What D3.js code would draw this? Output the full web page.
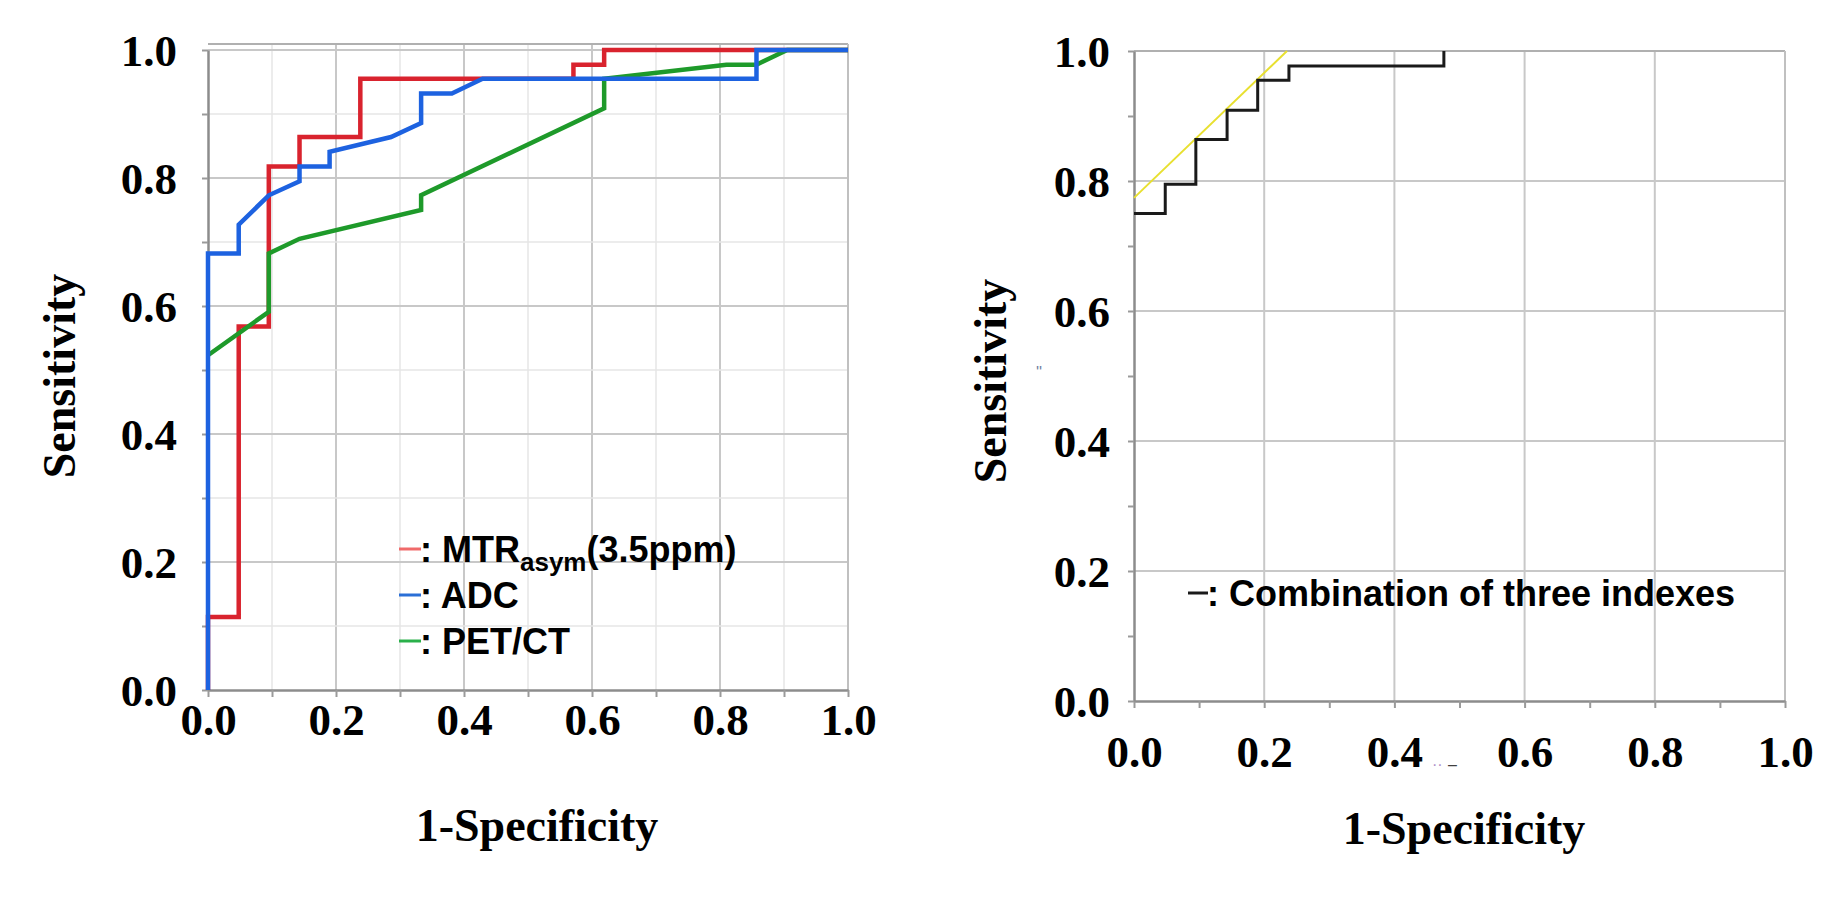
<!DOCTYPE html>
<html>
<head>
<meta charset="utf-8">
<script src="https://cdn.jsdelivr.net/npm/d3@7"></script>
<style>
  body { margin: 0; background: #fff; }
  .tick text { font-family: "Liberation Serif", "Times New Roman", serif; font-weight: bold; font-size: 45px; fill: #000; }
  .lgd { font-family: "Liberation Sans", Arial, sans-serif; font-weight: bold; font-size: 36px; fill: #000; }
  .ttl { font-family: "Liberation Serif", "Times New Roman", serif; font-weight: bold; font-size: 46px; fill: #000; }
</style>
</head>
<body>
<svg id="chart" width="1841" height="900"></svg>
<script>
// tick values / labels
const tickVals = d3.range(0, 11).map(i => i / 10);
const xTitle = "1-Specificity";
const yTitle = "Sensitivity";

// left panel: MTRasym(3.5ppm), ADC, PET/CT
const mtrX = [0, 0, 0.048, 0.048, 0.095, 0.095, 0.143, 0.143, 0.238, 0.238, 0.571, 0.571, 0.619, 0.619, 1.0];
const mtrY = [0, 0.114, 0.114, 0.568, 0.568, 0.818, 0.818, 0.864, 0.864, 0.955, 0.955, 0.977, 0.977, 1.0, 1.0];

const adcX = [0, 0, 0.048, 0.048, 0.095, 0.143, 0.143, 0.190, 0.190, 0.286, 0.333, 0.333, 0.381, 0.429, 0.857, 0.857, 1.0];
const adcY = [0, 0.682, 0.682, 0.727, 0.773, 0.795, 0.818, 0.818, 0.841, 0.864, 0.886, 0.932, 0.932, 0.955, 0.955, 1.0, 1.0];

const petX = [0, 0.095, 0.095, 0.143, 0.333, 0.333, 0.619, 0.619, 0.810, 0.857, 0.905, 1.0];
const petY = [0.523, 0.591, 0.682, 0.705, 0.750, 0.773, 0.909, 0.955, 0.977, 0.977, 1.0, 1.0];

// right panel: combination of three indexes + yellow guide line
const comboX = [0, 0.048, 0.048, 0.095, 0.095, 0.143, 0.143, 0.190, 0.190, 0.238, 0.238, 0.476, 0.476];
const comboY = [0.75, 0.75, 0.795, 0.795, 0.864, 0.864, 0.909, 0.909, 0.955, 0.955, 0.977, 0.977, 1.0];

const guideX = [0, 0.235];
const guideY = [0.774, 1.0];

const svg = d3.select("#chart");

function toPts(xs, ys) {
  return xs.map((v, i) => [v, ys[i]]);
}

function isMajor(d) {
  return Math.round(d * 10) % 2 === 0;
}

function drawPanel(cfg) {
  const x = d3.scaleLinear().domain([0, 1]).range([cfg.x0, cfg.x1]);
  const y = d3.scaleLinear().domain([0, 1]).range([cfg.y0, cfg.y1]);
  const g = svg.append("g");

  // grid
  const gridVals = cfg.minorGrid ? tickVals.slice(1) : tickVals.filter(d => d > 0 && isMajor(d));
  g.selectAll(".vg").data(gridVals).enter().append("line")
    .attr("x1", d => x(d)).attr("x2", d => x(d))
    .attr("y1", cfg.y0).attr("y2", cfg.y1 - cfg.pad)
    .attr("stroke", d => isMajor(d) ? "#c8c8c8" : "#e6e6e6")
    .attr("stroke-width", d => isMajor(d) ? 2 : 1.5);
  g.selectAll(".hg").data(gridVals).enter().append("line")
    .attr("y1", d => y(d)).attr("y2", d => y(d))
    .attr("x1", cfg.x0).attr("x2", cfg.x1)
    .attr("stroke", d => isMajor(d) ? "#c8c8c8" : "#e6e6e6")
    .attr("stroke-width", d => isMajor(d) ? 2 : 1.5);

  // top / right frame
  g.append("line").attr("x1", cfg.x0).attr("x2", cfg.x1)
    .attr("y1", cfg.y1 - cfg.pad).attr("y2", cfg.y1 - cfg.pad)
    .attr("stroke", "#b0b0b0").attr("stroke-width", 2);
  g.append("line").attr("x1", cfg.x1).attr("x2", cfg.x1)
    .attr("y1", cfg.y0).attr("y2", cfg.y1 - cfg.pad)
    .attr("stroke", "#c0c0c0").attr("stroke-width", 2);

  // axes
  const xAxis = d3.axisBottom(x).tickValues(tickVals).tickSize(7).tickSizeOuter(0)
    .tickFormat(d => isMajor(d) ? d.toFixed(1) : "");
  const yAxis = d3.axisLeft(y).tickValues(tickVals).tickSize(6).tickSizeOuter(0)
    .tickFormat(d => isMajor(d) ? d.toFixed(1) : "");

  const gx = g.append("g").attr("transform", `translate(0,${cfg.y0})`).call(xAxis);
  gx.selectAll("text").attr("y", cfg.xLabelOff).attr("dy", "0.35em");
  const gy = g.append("g").attr("transform", `translate(${cfg.x0},0)`).call(yAxis);
  gy.selectAll("text").attr("x", -cfg.yLabelOff).attr("dy", "0.35em");
  [gx, gy].forEach(a => {
    a.select(".domain").attr("stroke", "#8c8c8c").attr("stroke-width", 2.5);
    a.selectAll(".tick line").attr("stroke", "#9a9a9a").attr("stroke-width", 2);
  });

  // titles
  g.append("text").attr("class", "ttl").attr("text-anchor", "middle")
    .attr("x", cfg.xTitleX).attr("y", cfg.xTitleY).attr("dy", "0.35em").text(xTitle);
  g.append("text").attr("class", "ttl").attr("text-anchor", "middle")
    .attr("transform", `translate(${cfg.yTitleX},${cfg.yTitleY}) rotate(-90)`)
    .attr("dy", "0.35em").text(yTitle);

  const line = d3.line().x(d => x(d[0])).y(d => y(d[1]));
  cfg.series.forEach(s => {
    g.append("path").datum(toPts(s.xs, s.ys))
      .attr("d", line).attr("fill", "none")
      .attr("stroke", s.color).attr("stroke-width", s.width)
      .attr("stroke-linejoin", "miter");
  });

  return { x, y, g };
}

// left panel
const left = drawPanel({
  x0: 208, x1: 848, y0: 690, y1: 50, pad: 6, minorGrid: true,
  xLabelOff: 29, yLabelOff: 31,
  xTitleX: 537, xTitleY: 825, yTitleX: 59, yTitleY: 376,
  series: [
    { xs: mtrX, ys: mtrY, color: "#d9232e", width: 4.5 },
    { xs: petX, ys: petY, color: "#1e9a2a", width: 4.5 },
    { xs: adcX, ys: adcY, color: "#1d62e0", width: 4.5 }
  ]
});

// left legend
const legendItems = [
  { color: "#f06a6a", label: "MTR", sub: "asym", tail: "(3.5ppm)" },
  { color: "#2a6fd6", label: "ADC" },
  { color: "#2ab04a", label: "PET/CT" }
];
legendItems.forEach((it, i) => {
  const ly = 549 + i * 46;
  left.g.append("line").attr("x1", 399).attr("x2", 421).attr("y1", ly).attr("y2", ly)
    .attr("stroke", it.color).attr("stroke-width", 3);
  const t = left.g.append("text").attr("class", "lgd").attr("x", 420).attr("y", ly + 13);
  t.append("tspan").text(": " + it.label);
  if (it.sub) {
    t.append("tspan").attr("font-size", "26px").attr("dy", 9).text(it.sub);
    t.append("tspan").attr("dy", -9).text(it.tail);
  }
});

// right panel
const right = drawPanel({
  x0: 1134, x1: 1785, y0: 701, y1: 51, pad: 0, minorGrid: false,
  xLabelOff: 50, yLabelOff: 24,
  xTitleX: 1464, xTitleY: 828, yTitleX: 990, yTitleY: 381,
  series: [
    { xs: guideX, ys: guideY, color: "#e8e030", width: 2 },
    { xs: comboX, ys: comboY, color: "#1a1a1a", width: 3 }
  ]
});

right.g.append("line").attr("x1", 1188).attr("x2", 1208).attr("y1", 593).attr("y2", 593)
  .attr("stroke", "#1a1a1a").attr("stroke-width", 3);
right.g.append("text").attr("class", "lgd").attr("x", 1207).attr("y", 606)
  .text(": Combination of three indexes");

// small stray marks in the right panel
right.g.append("text").attr("x", 1036).attr("y", 378)
  .attr("font-family", "Liberation Sans").attr("font-size", 16).attr("fill", "#7080a0").text("''");
right.g.append("text").attr("x", 1432).attr("y", 770)
  .attr("font-family", "Liberation Sans").attr("font-size", 16).attr("fill", "#b090c8").text("··");
right.g.append("text").attr("x", 1448).attr("y", 770)
  .attr("font-family", "Liberation Sans").attr("font-size", 16).attr("fill", "#404040").text("–");
</script>
</body>
</html>
